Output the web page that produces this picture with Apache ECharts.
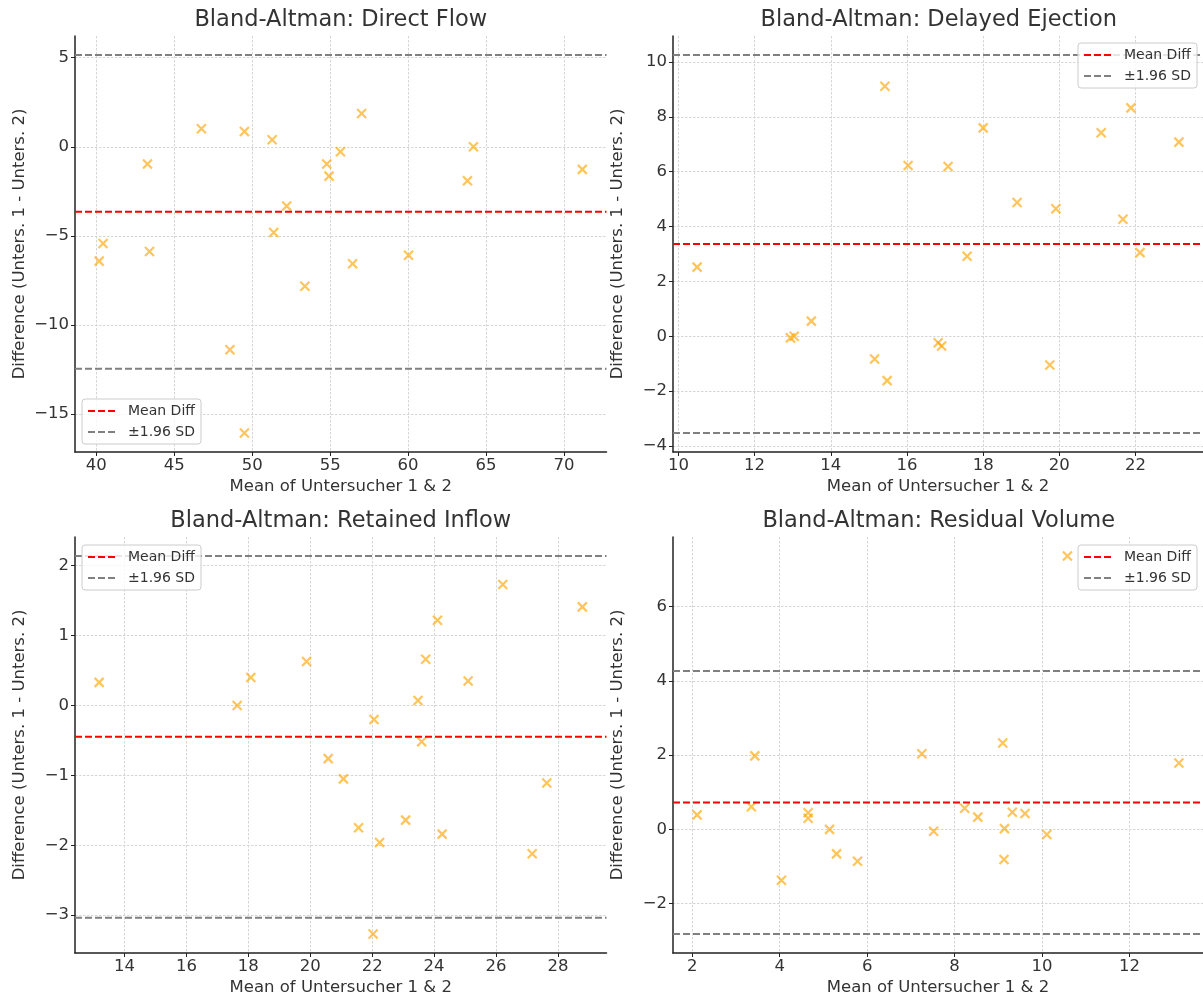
<!DOCTYPE html>
<html>
<head>
<meta charset="utf-8">
<script src="https://cdn.jsdelivr.net/npm/echarts@6/dist/echarts.min.js"></script>
<style>
  html, body { margin: 0; padding: 0; background: #ffffff; }
  #chart { width: 1203px; height: 1000px; }
</style>
</head>
<body>
<div id="chart"></div>
<script>
// Panel titles
const panelTitles = [
  'Bland-Altman: Direct Flow',
  'Bland-Altman: Delayed Ejection',
  'Bland-Altman: Retained Inflow',
  'Bland-Altman: Residual Volume'
];

// Direct Flow: mean of both raters / difference rater 1 - rater 2
const directFlowMean = [40.18, 40.43, 43.28, 43.41, 46.74, 48.57, 49.50, 49.50, 51.28, 51.38, 52.21,
                        53.38, 54.78, 54.93, 55.66, 56.44, 57.02, 60.03, 63.81, 64.19, 71.18];
const directFlowDiff = [-6.42, -5.43, -0.97, -5.88, 1.01, -11.39, 0.86, -16.07, 0.39, -4.81, -3.33,
                        -7.83, -0.97, -1.65, -0.28, -6.57, 1.87, -6.09, -1.91, 0.00, -1.27];

// Delayed Ejection
const delayedEjectionMean = [10.49, 12.94, 13.04, 13.49, 15.15, 15.42, 15.48, 16.03, 16.82, 16.91, 17.08,
                             17.58, 18.00, 18.89, 19.75, 19.91, 21.10, 21.67, 21.88, 22.12, 23.14];
const delayedEjectionDiff = [2.52, -0.06, 0.00, 0.55, -0.83, 9.12, -1.62, 6.23, -0.24, -0.36, 6.19,
                             2.92, 7.60, 4.88, -1.05, 4.65, 7.42, 4.27, 8.33, 3.05, 7.08];

// Retained Inflow
const retainedInflowMean = [13.18, 17.64, 18.08, 19.88, 20.58, 21.07, 21.56, 22.06, 22.03, 22.24, 23.08,
                            23.48, 23.60, 23.73, 24.11, 24.26, 25.10, 26.22, 27.17, 27.64, 28.79];
const retainedInflowDiff = [0.33, 0.00, 0.40, 0.63, -0.76, -1.05, -1.75, -0.20, -3.27, -1.96, -1.64,
                            0.07, -0.52, 0.66, 1.22, -1.84, 0.35, 1.73, -2.12, -1.11, 1.41];

// Residual Volume
const residualVolumeMean = [2.11, 3.35, 3.43, 4.04, 4.65, 4.65, 5.14, 5.30, 5.78, 7.25, 7.52,
                            8.23, 8.53, 9.10, 9.13, 9.14, 9.32, 9.61, 10.11, 10.58, 13.13];
const residualVolumeDiff = [0.39, 0.61, 1.98, -1.37, 0.45, 0.30, 0.00, -0.66, -0.86, 2.04, -0.05,
                            0.57, 0.33, 2.33, -0.81, 0.02, 0.46, 0.43, -0.14, 7.37, 1.79];

// Tick values per panel
const directFlowXTicks = [40, 45, 50, 55, 60, 65, 70];
const directFlowYTicks = [-15, -10, -5, 0, 5];
const delayedEjectionXTicks = [10, 12, 14, 16, 18, 20, 22];
const delayedEjectionYTicks = [-4, -2, 0, 2, 4, 6, 8, 10];
const retainedInflowXTicks = [14, 16, 18, 20, 22, 24, 26, 28];
const retainedInflowYTicks = [-3, -2, -1, 0, 1, 2];
const residualVolumeXTicks = [2, 4, 6, 8, 10, 12];
const residualVolumeYTicks = [-2, 0, 2, 4, 6];

const xAxisName = 'Mean of Untersucher 1 & 2';
const yAxisName = 'Difference (Unters. 1 - Unters. 2)';
const meanName = 'Mean Diff';
const limitName = '\u00b11.96 SD';

const panels = [
  { title: panelTitles[0], x: directFlowMean, y: directFlowDiff, xt: directFlowXTicks, yt: directFlowYTicks },
  { title: panelTitles[1], x: delayedEjectionMean, y: delayedEjectionDiff, xt: delayedEjectionXTicks, yt: delayedEjectionYTicks },
  { title: panelTitles[2], x: retainedInflowMean, y: retainedInflowDiff, xt: retainedInflowXTicks, yt: retainedInflowYTicks },
  { title: panelTitles[3], x: residualVolumeMean, y: residualVolumeDiff, xt: residualVolumeXTicks, yt: residualVolumeYTicks }
];

// Layout of the 2x2 grid and legend placement
const FONT = 'DejaVu Sans';
const TEXT = '#333333';
const gridBoxes = [
  { left: 75, top: 36 }, { left: 673, top: 36 },
  { left: 75, top: 537 }, { left: 673, top: 537 }
];
const GRID_W = 531.5, GRID_H = 416;
const legendPos = [
  { left: 82, top: 399 }, { left: 1078, top: 43 },
  { left: 82, top: 545 }, { left: 1078, top: 545 }
];

function mean(a) { return a.reduce((s, v) => s + v, 0) / a.length; }
function sampleSd(a) {
  const m = mean(a);
  return Math.sqrt(a.reduce((s, v) => s + (v - m) * (v - m), 0) / (a.length - 1));
}
function padded(lo, hi) {
  const p = (hi - lo) * 0.05;
  return [lo - p, hi + p];
}
const minus = v => String(v).replace('-', '\u2212');

const dashed = [7, 3];
const gridLine = { color: '#d6d6d6', width: 1, type: [2.5, 1.5] };

const grids = [], xAxes = [], yAxes = [], series = [], titles = [], legends = [];

panels.forEach((p, i) => {
  const m = mean(p.y);
  const s = sampleSd(p.y);
  const upper = m + 1.96 * s;
  const lower = m - 1.96 * s;
  const xr = padded(Math.min(...p.x), Math.max(...p.x));
  const yr = padded(Math.min(...p.y, lower), Math.max(...p.y, upper));

  grids.push({ left: gridBoxes[i].left, top: gridBoxes[i].top, width: GRID_W, height: GRID_H, containLabel: false });

  titles.push({
    text: p.title,
    left: gridBoxes[i].left + GRID_W / 2,
    top: gridBoxes[i].top - 28,
    textAlign: 'center',
    padding: 0,
    textStyle: { fontFamily: FONT, fontSize: 22.5, fontWeight: 'normal', color: TEXT, lineHeight: 24 }
  });

  xAxes.push({
    gridIndex: i, type: 'value', min: xr[0], max: xr[1],
    name: xAxisName, nameLocation: 'middle', nameGap: 26,
    nameTextStyle: { fontFamily: FONT, fontSize: 16.5, color: TEXT },
    axisLine: { show: true, onZero: false, lineStyle: { color: '#222222', width: 1.5 } },
    axisTick: { show: true, length: 4, customValues: p.xt, lineStyle: { color: '#222222', width: 1 } },
    axisLabel: { customValues: p.xt, fontFamily: FONT, fontSize: 16.5, color: TEXT, margin: 5, formatter: minus },
    splitLine: { show: true, lineStyle: gridLine }
  });

  yAxes.push({
    gridIndex: i, type: 'value', min: yr[0], max: yr[1],
    name: yAxisName, nameLocation: 'middle', nameGap: 47,
    nameTextStyle: { fontFamily: FONT, fontSize: 16.5, color: TEXT },
    axisLine: { show: true, onZero: false, lineStyle: { color: '#222222', width: 1.5 } },
    axisTick: { show: true, length: 4, customValues: p.yt, lineStyle: { color: '#222222', width: 1 } },
    axisLabel: { customValues: p.yt, fontFamily: FONT, fontSize: 16.5, color: TEXT, margin: 6, formatter: minus },
    splitLine: { show: true, lineStyle: gridLine }
  });

  series.push({
    type: 'scatter', name: p.title, xAxisIndex: i, yAxisIndex: i, silent: true,
    data: p.x.map((v, k) => [v, p.y[k]]),
    symbol: 'path://M0,0L9,9M9,0L0,9', symbolSize: 9,
    itemStyle: { color: 'rgba(0,0,0,0)', borderColor: 'rgba(255,165,0,0.8)', borderWidth: 2.2 },
    z: 2
  });

  const hline = (name, value, color) => ({
    type: 'line', name, xAxisIndex: i, yAxisIndex: i, silent: true,
    data: [[xr[0], value], [xr[1], value]],
    symbol: 'none', showSymbol: false,
    lineStyle: { color, width: 2, type: dashed },
    itemStyle: { color },
    z: 3
  });
  series.push(hline(meanName, m, '#ff0000'));
  series.push(hline(limitName, upper, '#808080'));
  series.push(hline(limitName, lower, '#808080'));

  legends.push({
    data: [meanName, limitName],
    orient: 'vertical', left: legendPos[i].left, top: legendPos[i].top,
    padding: [5, 6, 5, 5], itemWidth: 29, itemHeight: 14, itemGap: 7,
    selectedMode: false,
    itemStyle: { color: 'rgba(0,0,0,0)', borderColor: 'rgba(0,0,0,0)', borderWidth: 0 },
    backgroundColor: 'rgba(255,255,255,0.8)', borderColor: '#cccccc', borderWidth: 1, borderRadius: 3,
    textStyle: { fontFamily: FONT, fontSize: 14, color: TEXT, padding: [0, 0, 0, 6] },
    z: 10
  });
});

const chart = echarts.init(document.getElementById('chart'), null, { renderer: 'canvas' });
chart.setOption({
  animation: false,
  backgroundColor: '#ffffff',
  title: titles,
  legend: legends,
  grid: grids,
  xAxis: xAxes,
  yAxis: yAxes,
  series
});
</script>
</body>
</html>
